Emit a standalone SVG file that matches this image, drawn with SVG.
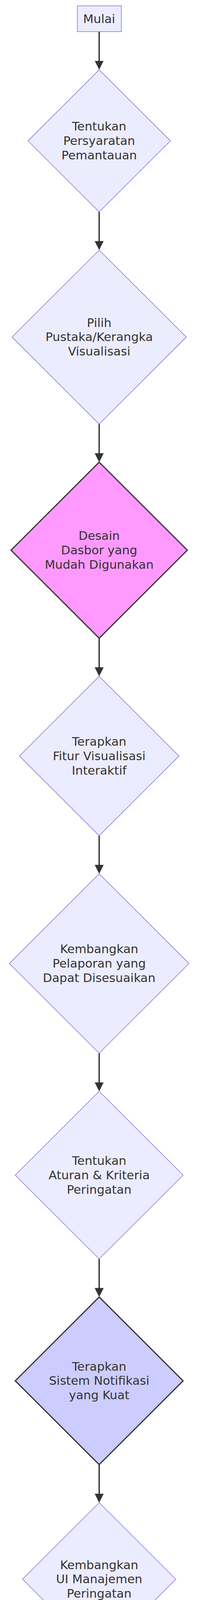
<svg xmlns="http://www.w3.org/2000/svg" width="524" height="6720" viewBox="0 0 524 6720">
<style>
.node rect, .node polygon { fill: #ECECFF; stroke: #9370DB; stroke-width: 1.5; }
.node.pink polygon { fill: #FF99FF; stroke: #333333; stroke-width: 3; }
.node.blue polygon { fill: #CCCCFF; stroke: #333333; stroke-width: 3; }
.node text { font-family: "DejaVu Sans", Verdana, sans-serif; font-size: 30.7px; fill: #333333; text-anchor: middle; }
.edge { stroke: #333333; stroke-width: 3.5; fill: none; }
</style>
<defs>
<marker id="arrow" viewBox="0 0 10 10" refX="4.8" refY="5" markerWidth="23" markerHeight="23" markerUnits="userSpaceOnUse" orient="auto">
<path d="M0,0 L10,5 L0,10 z" fill="#333333"/>
</marker>
</defs>
<rect width="524" height="6720" fill="#ffffff"/>
<g id="connectors">
<line class="edge" x1="253.5" y1="81" x2="253.5" y2="166.6" marker-end="url(#arrow)"/>
<line class="edge" x1="253.5" y1="542.6" x2="253.5" y2="628.2" marker-end="url(#arrow)"/>
<line class="edge" x1="253.5" y1="1085.6" x2="253.5" y2="1171.2" marker-end="url(#arrow)"/>
<line class="edge" x1="253.5" y1="1633.8" x2="253.5" y2="1719.4" marker-end="url(#arrow)"/>
<line class="edge" x1="253.5" y1="2139.4" x2="253.5" y2="2225" marker-end="url(#arrow)"/>
<line class="edge" x1="253.5" y1="2696.2" x2="253.5" y2="2781.8" marker-end="url(#arrow)"/>
<line class="edge" x1="253.5" y1="3222.8" x2="253.5" y2="3308.4" marker-end="url(#arrow)"/>
<line class="edge" x1="253.5" y1="3749.4" x2="253.5" y2="3835" marker-end="url(#arrow)"/>
<line class="edge" x1="253.5" y1="4238.6" x2="253.5" y2="4324.2" marker-end="url(#arrow)"/>
<line class="edge" x1="253.5" y1="4811.4" x2="253.5" y2="4897" marker-end="url(#arrow)"/>
<line class="edge" x1="253.5" y1="5308.8" x2="253.5" y2="5394.4" marker-end="url(#arrow)"/>
<line class="edge" x1="253.5" y1="5839.4" x2="253.5" y2="5925" marker-end="url(#arrow)"/>
<line class="edge" x1="253.5" y1="6304.4" x2="253.5" y2="6390" marker-end="url(#arrow)"/>
</g>
<g id="mulai" class="node">
<rect x="197.7" y="15" width="112.6" height="66"/>
<text x="253.5" y="59.3">Mulai</text>
</g>
<g id="tentukan-persyaratan" class="node">
<polygon points="253.5,178.6 435.5,360.6 253.5,542.6 71.5,360.6"/>
<text x="253.5" y="334.3"><tspan x="253.5">Tentukan</tspan><tspan x="253.5" dy="36.8">Persyaratan</tspan><tspan x="253.5" dy="36.8">Pemantauan</tspan></text>
</g>
<g id="pilih-pustaka" class="node">
<polygon points="253.5,640.2 476.2,862.9 253.5,1085.6 30.8,862.9"/>
<text x="253.5" y="836.6"><tspan x="253.5">Pilih</tspan><tspan x="253.5" dy="36.8">Pustaka/Kerangka</tspan><tspan x="253.5" dy="36.8">Visualisasi</tspan></text>
</g>
<g id="desain-dasbor" class="node pink">
<polygon points="253.5,1183.2 478.8,1408.5 253.5,1633.8 28.2,1408.5"/>
<text x="253.5" y="1382.2"><tspan x="253.5">Desain</tspan><tspan x="253.5" dy="36.8">Dasbor yang</tspan><tspan x="253.5" dy="36.8">Mudah Digunakan</tspan></text>
</g>
<g id="terapkan-fitur" class="node">
<polygon points="253.5,1731.4 457.5,1935.4 253.5,2139.4 49.5,1935.4"/>
<text x="253.5" y="1909.1"><tspan x="253.5">Terapkan</tspan><tspan x="253.5" dy="36.8">Fitur Visualisasi</tspan><tspan x="253.5" dy="36.8">Interaktif</tspan></text>
</g>
<g id="kembangkan-pelaporan" class="node">
<polygon points="253.5,2237 483.1,2466.6 253.5,2696.2 23.9,2466.6"/>
<text x="253.5" y="2440.3"><tspan x="253.5">Kembangkan</tspan><tspan x="253.5" dy="36.8">Pelaporan yang</tspan><tspan x="253.5" dy="36.8">Dapat Disesuaikan</tspan></text>
</g>
<g id="tentukan-aturan" class="node">
<polygon points="253.5,2793.8 468,3008.3 253.5,3222.8 39,3008.3"/>
<text x="253.5" y="2982"><tspan x="253.5">Tentukan</tspan><tspan x="253.5" dy="36.8">Aturan &amp; Kriteria</tspan><tspan x="253.5" dy="36.8">Peringatan</tspan></text>
</g>
<g id="terapkan-notifikasi" class="node blue">
<polygon points="253.5,3320.4 468,3534.9 253.5,3749.4 39,3534.9"/>
<text x="253.5" y="3508.6"><tspan x="253.5">Terapkan</tspan><tspan x="253.5" dy="36.8">Sistem Notifikasi</tspan><tspan x="253.5" dy="36.8">yang Kuat</tspan></text>
</g>
<g id="kembangkan-ui" class="node">
<polygon points="253.5,3847 449.3,4042.8 253.5,4238.6 57.7,4042.8"/>
<text x="253.5" y="4016.5"><tspan x="253.5">Kembangkan</tspan><tspan x="253.5" dy="36.8">UI Manajemen</tspan><tspan x="253.5" dy="36.8">Peringatan</tspan></text>
</g>
<g id="integrasikan" class="node">
<polygon points="253.5,4336.2 491.1,4573.8 253.5,4811.4 15.9,4573.8"/>
<text x="253.5" y="4547.5"><tspan x="253.5">Integrasikan</tspan><tspan x="253.5" dy="36.8">dengan Manajemen</tspan><tspan x="253.5" dy="36.8">Kasus</tspan></text>
</g>
<g id="terapkan-kontrol" class="node">
<polygon points="253.5,4909 453.4,5108.9 253.5,5308.8 53.6,5108.9"/>
<text x="253.5" y="5082.6"><tspan x="253.5">Terapkan</tspan><tspan x="253.5" dy="36.8">Kontrol Akses</tspan><tspan x="253.5" dy="36.8">Berbasis Peran</tspan></text>
</g>
<g id="pastikan-streaming" class="node">
<polygon points="253.5,5406.4 470,5622.9 253.5,5839.4 37,5622.9"/>
<text x="253.5" y="5596.6"><tspan x="253.5">Pastikan</tspan><tspan x="253.5" dy="36.8">Streaming Data</tspan><tspan x="253.5" dy="36.8">Secara Real-time</tspan></text>
</g>
<g id="terapkan-skalabilitas" class="node">
<polygon points="253.5,5937 437.2,6120.7 253.5,6304.4 69.8,6120.7"/>
<text x="253.5" y="6094.4"><tspan x="253.5">Terapkan</tspan><tspan x="253.5" dy="36.8">Skalabilitas</tspan><tspan x="253.5" dy="36.8">&amp; Keamanan</tspan></text>
</g>
<g id="selesai" class="node">
<rect x="105.3" y="6402" width="295.7" height="102.5"/>
<text x="253.5" y="6445.2"><tspan x="253.5">Alat Pemantauan</tspan><tspan x="253.5" dy="36.8">Selesai</tspan></text>
</g>
</svg>
